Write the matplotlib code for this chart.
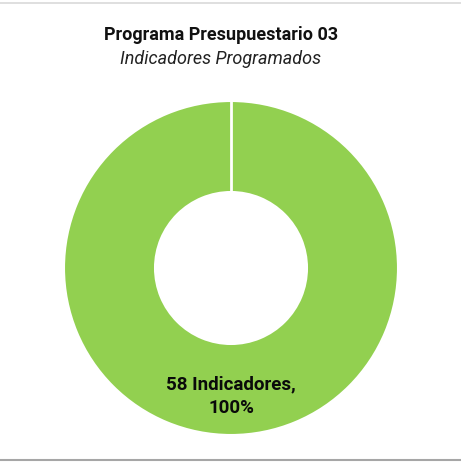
import matplotlib
matplotlib.use("Agg")
import matplotlib.pyplot as plt
import numpy as np
from matplotlib.lines import Line2D

# data
categories = ["Indicadores"]
values = [58]
pct_labels = ["100%"]

title = "Programa Presupuestario 03"
subtitle = "Indicadores Programados"

plt.rcParams["font.family"] = ["Roboto", "DejaVu Sans"]

W, H = 461, 464
fig = plt.figure(figsize=(W / 100, H / 100), dpi=100)
fig.patch.set_facecolor("white")

# frame lines at top and bottom
fig.add_artist(Line2D([0, 1], [1 - 4 / H, 1 - 4 / H], color="#d9d9d9", lw=1.2))
fig.add_artist(Line2D([0, 1], [3 / H, 3 / H], color="#a6a6a6", lw=1.5))

fig.text(221 / W, 1 - 35 / H, title, ha="center", va="center",
         fontsize=13, fontweight="bold", color="#111111")
fig.text(221 / W, 1 - 59 / H, subtitle, ha="center", va="center",
         fontsize=13, style="italic", color="#222222")

ax = fig.add_axes([64 / W, 28 / H, 334 / W, 334 / H])
wedges, _ = ax.pie(values, startangle=90, counterclock=False, radius=1.0,
                   colors=["#92d050"],
                   wedgeprops=dict(width=0.545, edgecolor="white", linewidth=1.5))
ax.set_xlim(-1, 1)
ax.set_ylim(-1, 1)
ax.set_aspect("equal")
ax.axis("off")

# slice boundary at the start angle
w = wedges[0]
ang = np.deg2rad(w.theta2)
rr = np.array([w.r - w.width, w.r])
ax.plot(rr * np.cos(ang), rr * np.sin(ang), color="white", lw=2)

label = f"{values[0]} {categories[0]},\n{pct_labels[0]}"
ax.text(0, -0.76, label, ha="center", va="center", fontsize=13.5,
        fontweight="bold", color="#0a0a0a", linespacing=1.4)

fig.savefig("out.png", dpi=100, facecolor="white")
